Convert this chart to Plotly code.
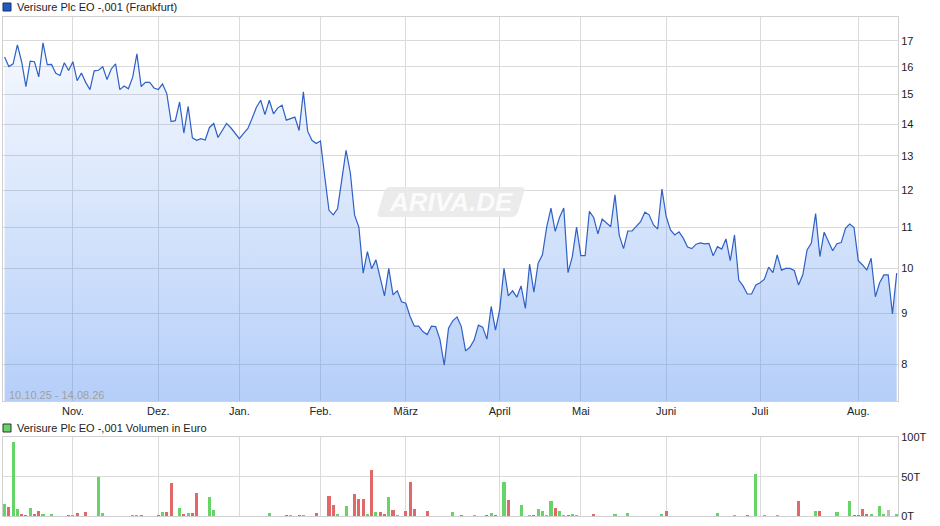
import math
import plotly.graph_objects as go

# ---------------- data ----------------
price = [
    16.37, 16.01, 16.11, 16.84, 16.19, 15.28, 16.21, 16.19, 15.63, 16.92,
    16.08, 16.09, 15.76, 15.68, 16.15, 15.86, 16.19, 15.49, 15.77, 15.43,
    15.17, 15.85, 15.87, 16.00, 15.53, 15.92, 16.11, 15.17, 15.30, 15.20,
    15.61, 16.49, 15.28, 15.43, 15.43, 15.23, 15.17, 15.37, 15.03, 14.08,
    14.11, 14.74, 13.71, 14.59, 13.56, 13.48, 13.53, 13.49, 13.89, 14.02,
    13.57, 13.81, 14.02, 13.88, 13.71, 13.53, 13.70, 13.86, 14.19, 14.56,
    14.80, 14.31, 14.80, 14.34, 14.54, 14.63, 14.13, 14.17, 14.23, 13.79,
    15.09, 13.77, 13.48, 13.38, 13.46, 12.39, 11.45, 11.33, 11.49, 12.30,
    13.17, 12.49, 11.32, 11.01, 9.89, 10.40, 9.99, 10.20, 9.77, 9.38,
    10.00, 9.40, 9.49, 9.25, 9.22, 8.94, 8.74, 8.74, 8.63, 8.57,
    8.74, 8.73, 8.47, 7.98, 8.70, 8.85, 8.93, 8.73, 8.25, 8.32,
    8.46, 8.76, 8.72, 8.48, 9.15, 8.66, 9.09, 10.00, 9.38, 9.49,
    9.35, 9.60, 9.11, 10.10, 9.46, 10.12, 10.32, 11.01, 11.51, 10.90,
    11.26, 11.51, 9.90, 10.28, 11.01, 10.30, 10.30, 11.42, 11.26, 10.84,
    11.22, 11.13, 11.02, 11.87, 10.80, 10.47, 10.91, 10.91, 11.02, 11.15,
    11.40, 11.33, 11.07, 10.96, 12.03, 11.28, 10.94, 10.81, 10.89, 10.73,
    10.51, 10.47, 10.58, 10.61, 10.59, 10.60, 10.30, 10.52, 10.46, 10.71,
    10.18, 10.81, 9.73, 9.60, 9.42, 9.42, 9.62, 9.67, 9.75, 10.03,
    9.90, 10.32, 9.96, 10.00, 10.00, 9.95, 9.62, 9.85, 10.44, 10.61,
    11.36, 10.28, 10.88, 10.65, 10.42, 10.59, 10.62, 10.98, 11.09, 11.00,
    10.18, 10.08, 9.96, 10.24, 9.36, 9.67, 9.85, 9.85, 8.99, 9.89,
]

# volume in thousand euro ("T")
volume_t = [
    15.2, 11.4, 94.4, 8.9, 2.5, 1.3, 10.2, 2.5, 6.4, 2.5,
    0, 2.5, 0, 0, 0, 0.8, 1.3, 3.8, 0, 5.0,
    0, 0, 49.6, 3.8, 0, 0, 0, 0, 0, 0,
    0.8, 0.8, 1.3, 0, 0, 0, 0.8, 5.0, 5.0, 41.9,
    0, 10.2, 2.5, 3.8, 3.8, 29.2, 0, 0, 24.1, 7.6,
    0, 0, 0, 0, 0, 0, 0, 0, 0, 0,
    0, 0, 3.8, 0, 0, 0, 0.8, 0.8, 0, 0.8,
    0.8, 0, 0, 3.8, 0, 0, 25.4, 14.0, 2.5, 0,
    12.7, 0, 27.9, 21.6, 21.6, 2.5, 58.4, 5.0, 5.0, 2.5,
    24.1, 7.6, 0.8, 0, 6.4, 43.2, 8.9, 0, 0, 6.4,
    0, 0, 0, 0, 0, 5.0, 0, 1.3, 0, 0,
    0.8, 0, 0, 0.8, 3.8, 1.3, 0, 43.2, 20.3, 0,
    0, 14.0, 0, 1.3, 0.8, 8.9, 6.4, 1.3, 19.1, 10.2,
    6.4, 1.3, 0.8, 2.5, 1.3, 0, 0, 0, 2.5, 0,
    0, 0, 0, 2.5, 0, 0, 3.8, 0, 0, 0,
    0, 0, 0, 0, 2.5, 6.4, 0, 0, 0, 0,
    0, 0, 0, 0, 0, 0, 0, 3.8, 0, 0,
    0, 0.8, 0, 0, 0.8, 0, 53.4, 0, 0.8, 0,
    0, 0.8, 0, 0, 0, 0, 19.1, 0, 0, 0,
    6.4, 6.4, 0, 0, 0, 5.0, 0, 0, 19.1, 1.3,
    0.8, 8.9, 2.5, 2.5, 0, 12.7, 2.5, 7.6, 0, 2.5,
]

month_labels = ["Nov.", "Dez.", "Jan.", "Feb.", "März", "April", "Mai", "Juni", "Juli", "Aug."]
month_first_index = [16, 36, 55, 74, 94, 116, 135, 155, 177, 200]
price_ticks = [8, 9, 10, 11, 12, 13, 14, 15, 16, 17]
volume_ticks = [0, 50, 100]
volume_tick_labels = ["0T", "50T", "100T"]
price_title = "Verisure Plc EO -,001 (Frankfurt)"
volume_title = "Verisure Plc EO -,001 Volumen in Euro"
date_range_label = "10.10.25 - 14.08.26"

# ---------------- layout geometry ----------------
W, H = 940, 526
ML, MR, MT, MB = 3, 42, 17, 10
PW, PH = W - ML - MR, H - MT - MB


def px(x):
    return (x - ML) / PW


def py(y):
    return (H - MB - y) / PH


FONT = "Liberation Sans, Arial, sans-serif"
GRID = "#dadada"
LINE = "#d0d0d0"
GREEN, RED, GRAY = "#66d466", "#e06868", "#bdbdbd"

x = list(range(len(price)))
bar_colors = []
for i in range(len(volume_t)):
    d = price[i] - price[i - 1] if i > 0 else 1
    bar_colors.append(GREEN if d > 0 else (RED if d < 0 else GRAY))

y_lo, y_hi = 7.34, 17.97

fig = go.Figure()
fig.add_trace(go.Scatter(
    x=x, y=price, mode="lines",
    line=dict(color="#2e60c6", width=1.2),
    fill="tozeroy",
    fillgradient=dict(type="vertical", start=y_lo, stop=y_hi,
                      colorscale=[[0, "rgba(80,140,240,0.42)"], [1, "rgba(80,140,240,0.03)"]]),
    xaxis="x", yaxis="y", hoverinfo="skip", showlegend=False,
))
fig.add_trace(go.Bar(
    x=x, y=volume_t, width=0.72,
    marker=dict(color=bar_colors, line=dict(width=0)),
    xaxis="x2", yaxis="y2", hoverinfo="skip", showlegend=False,
))

x_range = [-0.37, 209.3]
common_x = dict(range=x_range, tickvals=month_first_index, ticktext=month_labels,
                showgrid=True, gridcolor=GRID, gridwidth=1, zeroline=False,
                showline=True, linecolor=LINE, linewidth=1, mirror=True, ticks="")

fig.update_layout(
    width=W, height=H,
    margin=dict(l=ML, r=MR, t=MT, b=MB),
    paper_bgcolor="white", plot_bgcolor="white",
    font=dict(family=FONT, size=11, color="#222222"),
    bargap=0,
    xaxis=dict(domain=[0, 1], anchor="y", tickfont=dict(size=11, color="#222"), **common_x),
    yaxis=dict(domain=[py(401), 1], type="log", range=[math.log10(y_lo), math.log10(y_hi)],
               side="right", tickvals=price_ticks, ticktext=[str(t) for t in price_ticks],
               showgrid=True, gridcolor=GRID, zeroline=False, showline=True, linecolor=LINE,
               mirror=True, ticks="", tickfont=dict(size=11, color="#222")),
    xaxis2=dict(domain=[0, 1], anchor="y2", showticklabels=False, **common_x),
    yaxis2=dict(domain=[0, py(437.3)], range=[0, 100], side="right", tickvals=volume_ticks,
                ticktext=volume_tick_labels, showgrid=True, gridcolor=GRID, zeroline=False,
                showline=True, linecolor=LINE, mirror=True, ticks="", tickfont=dict(size=11, color="#222")),
)

# legend-like titles
fig.add_shape(type="rect", xref="paper", yref="paper", x0=px(3), x1=px(11), y0=py(11), y1=py(3),
              fillcolor="#2458bd", line=dict(color="#10306e", width=1))
fig.add_annotation(xref="paper", yref="paper", x=px(15), y=py(7), text=price_title, showarrow=False,
                   xanchor="left", yanchor="middle", font=dict(size=11, color="#222"))
fig.add_shape(type="rect", xref="paper", yref="paper", x0=px(3), x1=px(11), y0=py(432), y1=py(424),
              fillcolor="#66d466", line=dict(color="#333333", width=1))
fig.add_annotation(xref="paper", yref="paper", x=px(15), y=py(428), text=volume_title, showarrow=False,
                   xanchor="left", yanchor="middle", font=dict(size=11, color="#222"))

# date range inside the price panel
fig.add_annotation(xref="paper", yref="paper", x=px(7), y=py(395), text=date_range_label, showarrow=False,
                   xanchor="left", yanchor="middle", font=dict(size=11, color="#a0a0a0"))

# ARIVA.DE watermark
pts = [(390, 187), (520, 187), (526, 187), (524, 192), (518, 212), (516, 217), (511, 217),
       (382, 217), (376, 217), (378, 212), (384, 192), (386, 187), (390, 187)]
P = [(px(a), py(b)) for a, b in pts]
path = (f"M {P[0][0]},{P[0][1]} L {P[1][0]},{P[1][1]} Q {P[2][0]},{P[2][1]} {P[3][0]},{P[3][1]} "
        f"L {P[4][0]},{P[4][1]} Q {P[5][0]},{P[5][1]} {P[6][0]},{P[6][1]} "
        f"L {P[7][0]},{P[7][1]} Q {P[8][0]},{P[8][1]} {P[9][0]},{P[9][1]} "
        f"L {P[10][0]},{P[10][1]} Q {P[11][0]},{P[11][1]} {P[12][0]},{P[12][1]} Z")
fig.add_shape(type="path", xref="paper", yref="paper", path=path, fillcolor="#e9e9e9",
              line=dict(width=0), layer="above", opacity=0.9)
fig.add_annotation(xref="paper", yref="paper", x=px(451), y=py(202), text="ARIVA.DE", showarrow=False,
                   xanchor="center", yanchor="middle",
                   font=dict(size=26, color="#fbfbfb", family=FONT, weight="bold", style="italic"))

fig.write_html("out.html", config={"displayModeBar": False, "staticPlot": True},
               post_script="document.body.style.margin='0';document.body.style.overflow='hidden';")
